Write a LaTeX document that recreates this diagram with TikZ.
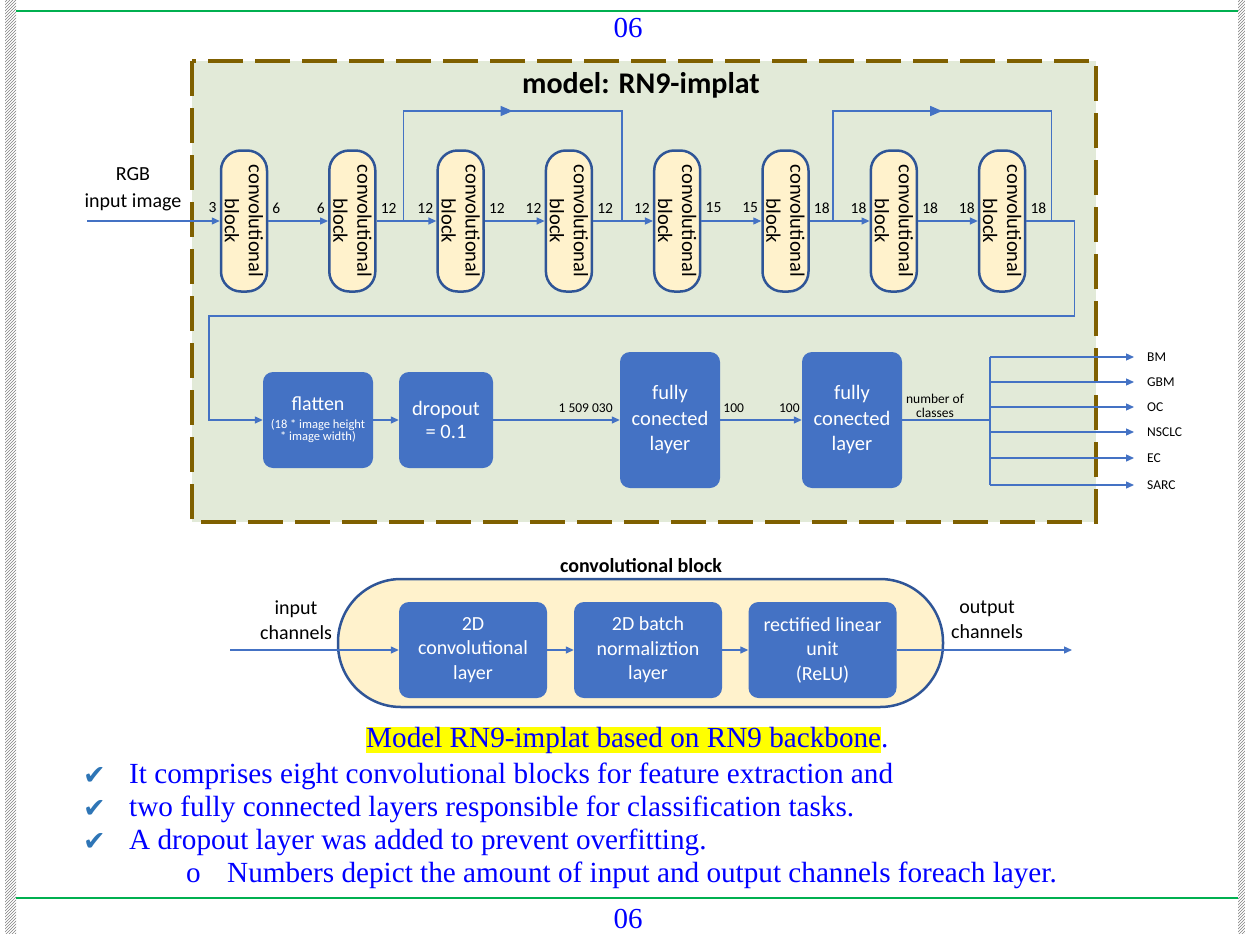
\documentclass[tikz,border=0pt]{standalone}
\usepackage{fontspec}
\setmainfont{Liberation Serif}
\newfontfamily\diagfont{Carlito}
\newfontfamily\symfont{DejaVu Sans}
\usetikzlibrary{arrows.meta,patterns,calc,decorations.markings}

\definecolor{framebrown}{HTML}{7F6000}
\definecolor{panelgreen}{HTML}{E2EAD8}
\definecolor{blocktan}{HTML}{FFF2CC}
\definecolor{blocknavy}{HTML}{2F5597}
\definecolor{boxblue}{HTML}{4472C4}
\definecolor{wireblue}{HTML}{4472C4}
\definecolor{rulegreen}{HTML}{00B050}
\definecolor{textblue}{HTML}{0000FF}
\definecolor{tickblue}{HTML}{2E75B6}
\definecolor{hiliteyellow}{HTML}{FFFF00}

% Carlito at a given size / baseline skip
\newcommand\dfs[2]{\diagfont\fontsize{#1}{#2}\selectfont}

\begin{document}
\begin{tikzpicture}[x=1pt,y=-1pt,
  convblk/.style={draw=blocknavy, line width=2.5pt, fill=blocktan, rounded corners=20pt,
                  minimum width=46pt, minimum height=141pt, inner sep=0pt},
  convtxt/.style={rotate=-90, align=center, font=\dfs{20.5}{24}, inner sep=0pt},
  num/.style={font=\dfs{15.5}{16}, inner sep=0pt},
  bluebox/.style={fill=boxblue, rounded corners=10pt, text=white, align=center, inner sep=0pt},
  wire/.style={draw=wireblue, line width=1.3pt},
  arr/.style={wire, -{Triangle[length=8pt,width=7pt]}},
  midarrow/.style={postaction={decorate}, decoration={markings,
      mark=at position 0.5 with {\arrow[wireblue]{Triangle[length=12pt,width=10pt]}}}},
  lbl/.style={font=\dfs{20}{25}, align=center, inner sep=0pt},
  small/.style={font=\dfs{13.5}{14}, inner sep=0pt},
  body/.style={font=\fontsize{29.2}{33}\selectfont, text=textblue, inner sep=0pt, anchor=base west},
  tick/.style={font=\symfont\fontsize{27}{27}\selectfont, text=tickblue, inner sep=0pt, anchor=base west},
]
\useasboundingbox (0,0) rectangle (1245,934);

% page decoration: hatched side strips, green rules, page numbers
\fill[pattern=north east lines, pattern color=gray] (5,0) rectangle (16,934);
\fill[pattern=north east lines, pattern color=gray] (1238,0) rectangle (1245,934);
\draw[rulegreen, line width=2.5pt] (16,11) -- (1238,11);
\draw[rulegreen, line width=2.5pt] (16,898) -- (1238,898);
\node[font=\fontsize{29}{33}\selectfont, text=textblue, anchor=base, inner sep=0pt] (pgtop) at (628,38) {06};
\node[font=\fontsize{29}{33}\selectfont, text=textblue, anchor=base, inner sep=0pt] (pgbot) at (628,928) {06};

% model panel
\draw[framebrown, line width=4pt, dash pattern=on 35pt off 12pt, fill=panelgreen]
  (192,61) rectangle (1096,522);
\node[font=\diagfont\bfseries\fontsize{30}{36}\selectfont, inner sep=0pt] (title) at (641,85) {model: RN9-implat};

% eight convolutional blocks
\foreach \i in {1,...,8} {
  \node[convblk] (c\i) at ({244+108.3*(\i-1)},221) {};
  \node[convtxt] (c\i txt) at (c\i) {convolutional\\block};
}
\foreach \i/\a/\b in {1/3/6,2/6/12,3/12/12,4/12/12,5/12/15,6/15/18,7/18/18,8/18/18} {
  \node[num, anchor=east] (c\i in) at ([shift={(-3,-13)}]c\i.west) {\a};
  \node[num, anchor=west] (c\i out) at ([shift={(4,-13)}]c\i.east) {\b};
}

\node[lbl, font=\dfs{20}{27}] (rgb) at (133,189) {RGB\\input image};
\coordinate (rgbin) at (87,221);
\draw[arr] (rgbin) -- (c1.west);
\foreach \i in {1,...,7} {
  \pgfmathtruncatemacro\j{\i+1}
  \draw[arr] (c\i.east) -- (c\j.west);
}

% skip connections
\coordinate (skiplvl) at (0,111);
\coordinate (s1a) at ($(c2.east)!0.45!(c3.west)$);
\coordinate (s1b) at ($(c4.east)!0.48!(c5.west)$);
\coordinate (s2a) at ($(c6.east)!0.39!(c7.west)$);
\coordinate (s2b) at ($(c8.east)+(25,0)$);
\draw[wire, midarrow] (s1a) -- (s1a |- skiplvl) -| (s1b);
\draw[wire, midarrow] (s2a) -- (s2a |- skiplvl) -| (s2b);

% classifier row
\node[bluebox, minimum width=110pt, minimum height=96pt, font=\dfs{12.5}{12.5}] (flat) at (318,420)
  {{\dfs{20}{24}flatten}\\[5pt](18 * image height\\{*} image width)};
\node[bluebox, minimum width=94pt, minimum height=96pt, font=\dfs{20.5}{23}] (drop) at (446,420) {dropout\\= 0.1};
\node[bluebox, minimum width=100pt, minimum height=136pt, font=\dfs{20.5}{25.5}] (fc1) at (670,420) {fully\\conected\\layer};
\node[bluebox, minimum width=100pt, minimum height=136pt, font=\dfs{20.5}{25.5}] (fc2) at (852,420) {fully\\conected\\layer};

\coordinate (ret1) at ($(c8.east)+(48,0)$);
\coordinate (ret2) at (209,316);
\draw[arr] (c8.east) -- (ret1) |- (ret2) |- (flat.west);
\draw[arr] (flat) -- (drop);
\draw[arr] (drop) -- (fc1);
\draw[arr] (fc1) -- (fc2);
\node[small, anchor=east] (nflat) at ([shift={(-7,-12)}]fc1.west) {1 509 030};
\node[small, anchor=west] (nfc1) at ([shift={(3,-12)}]fc1.east) {100};
\node[small, anchor=east] (nfc2) at ([shift={(-2,-12)}]fc2.west) {100};
\node[small, align=center, font=\dfs{13.5}{13.5}] (ncls) at (935,406) {number of\\classes};

% class outputs
\coordinate (bus) at (990,420);
\draw[wire] (fc2.east) -- (bus);
\foreach \k/\cname/\yy in {1/BM/357,2/GBM/382,3/OC/407,4/NSCLC/432,5/EC/458,6/SARC/485} {
  \node[small, anchor=west] (cls\k) at (1147,\yy) {\cname};
  \draw[arr] (bus |- cls\k.west) -- ([xshift=-13pt]cls\k.west);
}
\draw[wire] (bus |- cls1.west) -- (bus |- cls6.west);

% inside a convolutional block
\node[draw=blocknavy, line width=2.5pt, fill=blocktan, rounded corners=63pt,
      minimum width=605pt, minimum height=128pt, inner sep=0pt] (cb) at (640.5,643) {};
\node[font=\diagfont\bfseries\fontsize{20}{24}\selectfont, inner sep=0pt] (cbtitle) at (641,566) {convolutional block};
\node[bluebox, minimum width=148pt, minimum height=96pt, font=\dfs{20}{24.5}] (l1) at (473,650) {2D\\convolutional\\layer};
\node[bluebox, minimum width=148pt, minimum height=96pt, font=\dfs{20}{24.5}] (l2) at (648,650) {2D batch\\normaliztion\\layer};
\node[bluebox, minimum width=148pt, minimum height=96pt, font=\dfs{20}{24.5}] (l3) at (822.5,650) {rectified linear\\unit\\(ReLU)};
\coordinate (cbin) at (230,650);
\coordinate (cbout) at (1072,650);
\draw[arr] (cbin) -- (l1);
\draw[arr] (l1) -- (l2);
\draw[arr] (l2) -- (l3);
\draw[arr] (l3) -- (cbout);
\node[lbl] (inch) at (296,620) {input\\channels};
\node[lbl] (outch) at (987,620) {output\\channels};

% caption and notes
\node[body] (cap) at (366,747) {\fboxsep=0pt\colorbox{hiliteyellow}{Model RN9-implat based on RN9 backbone}.};
\node[tick] (tick1) at (83,784) {✔};
\node[body] (note1) at (129,783) {It comprises eight convolutional blocks for feature extraction and};
\node[tick] (tick2) at (83,817) {✔};
\node[body] (note2) at (129,816) {two fully connected layers responsible for classification tasks.};
\node[tick] (tick3) at (83,850) {✔};
\node[body] (note3) at (129,849) {A dropout layer was added to prevent overfitting.};
\node[body] (subo) at (186,882) {o};
\node[body] (note4) at (227,882) {Numbers depict the amount of input and output channels foreach layer.};
\end{tikzpicture}
\end{document}
